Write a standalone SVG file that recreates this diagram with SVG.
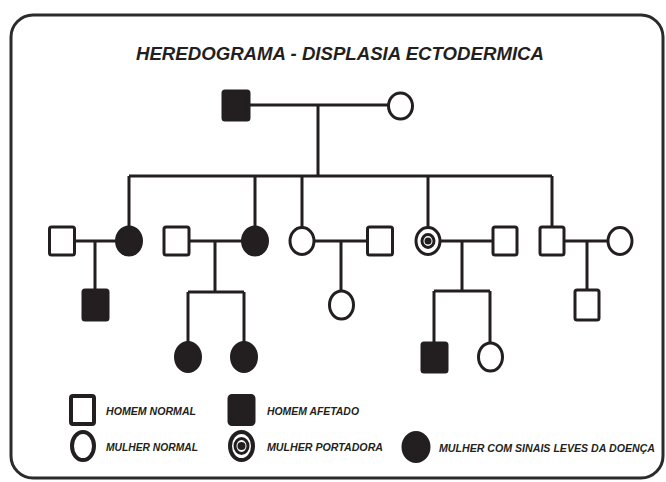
<svg xmlns="http://www.w3.org/2000/svg" width="666" height="482" viewBox="0 0 666 482">
<defs>
<style>
.frame{fill:#fff;stroke:#2b2b2b;stroke-width:3}
.ln{stroke:#231f20;stroke-width:3;fill:none}
.sq{fill:#fff;stroke:#231f20;stroke-width:3}
.sqf{fill:#231f20;stroke:#231f20;stroke-width:3}
.ci{fill:#fff;stroke:#231f20;stroke-width:3}
.cif{fill:#231f20;stroke:#231f20;stroke-width:3}
.dot{fill:#231f20}
.title{font-family:"Liberation Sans",Arial,sans-serif;font-weight:bold;font-style:italic;font-size:18.5px;fill:#231f20}
.lg{font-family:"Liberation Sans",Arial,sans-serif;font-weight:bold;font-style:italic;font-size:10.5px;fill:#231f20}
.lsq{fill:#fff;stroke:#231f20;stroke-width:4}
</style>
</defs>
<rect width="666" height="482" fill="#fff"/>
<rect class="frame" x="11" y="15" width="652" height="463" rx="22" ry="22"/>
<text class="title" x="136" y="60" textLength="408" lengthAdjust="spacingAndGlyphs">HEREDOGRAMA - DISPLASIA ECTODERMICA</text>

<g id="connectors">
<path class="ln" d="M249 105H388M318 105V176M129 176H552M129 176V227M255 176V227M302 176V227M428 176V227M552 176V227"/>
<path class="ln" d="M74 241H117M95 241V290"/>
<path class="ln" d="M188 241H243M215 241V292M188 292H244M188 292V342M244 292V342"/>
<path class="ln" d="M314 241H368M341 241V291"/>
<path class="ln" d="M440 241H493M462 241V291M434 291H490M434 291V343M490 291V343"/>
<path class="ln" d="M564 241H608M587 241V290"/>
</g>

<g id="gen1-father"><rect class="sqf" x="223" y="91" width="26" height="29" rx="2"/></g>
<g id="gen1-mother"><ellipse class="ci" cx="400.5" cy="106" rx="12" ry="13"/></g>

<g id="c1-husband"><rect class="sq" x="49.5" y="227" width="25" height="28" rx="2"/></g>
<g id="c1-wife"><ellipse class="cif" cx="129" cy="241" rx="12.5" ry="14"/></g>
<g id="c1-son"><rect class="sqf" x="83" y="290" width="25" height="30" rx="2"/></g>

<g id="c2-husband"><rect class="sq" x="164" y="227" width="25" height="28" rx="2"/></g>
<g id="c2-wife"><ellipse class="cif" cx="255" cy="241" rx="12.5" ry="14"/></g>
<g id="c2-daughter1"><ellipse class="cif" cx="188" cy="357" rx="12.5" ry="14.5"/></g>
<g id="c2-daughter2"><ellipse class="cif" cx="244" cy="357" rx="12.5" ry="14.5"/></g>

<g id="c3-wife"><ellipse class="ci" cx="302" cy="241" rx="12" ry="13.5"/></g>
<g id="c3-husband"><rect class="sq" x="367.5" y="227" width="25" height="28" rx="2"/></g>
<g id="c3-daughter"><ellipse class="ci" cx="341.5" cy="305" rx="12" ry="14"/></g>

<g id="c4-wife"><ellipse class="ci" cx="428" cy="241" rx="12" ry="13.5"/><ellipse class="ci" cx="428" cy="241" rx="6" ry="6.5" stroke-width="2"/><circle class="dot" cx="428" cy="241" r="3.5"/></g>
<g id="c4-husband"><rect class="sq" x="493" y="227" width="24" height="28" rx="2"/></g>
<g id="c4-son"><rect class="sqf" x="422" y="343" width="25" height="29" rx="2"/></g>
<g id="c4-daughter"><ellipse class="ci" cx="490.5" cy="357" rx="12" ry="14"/></g>

<g id="c5-husband"><rect class="sq" x="540" y="227" width="24" height="28" rx="2"/></g>
<g id="c5-wife"><ellipse class="ci" cx="620" cy="241" rx="12" ry="13.5"/></g>
<g id="c5-son"><rect class="sq" x="575" y="290" width="24" height="30" rx="2"/></g>

<g id="legend">
<rect class="lsq" x="71" y="396" width="23" height="28" rx="2"/>
<text class="lg" x="106" y="415" textLength="90" lengthAdjust="spacingAndGlyphs">HOMEM NORMAL</text>
<rect class="sqf" x="229" y="395.5" width="25" height="29" rx="3"/>
<text class="lg" x="267" y="415" textLength="92" lengthAdjust="spacingAndGlyphs">HOMEM AFETADO</text>
<ellipse class="lsq" cx="83" cy="446" rx="11" ry="14"/>
<text class="lg" x="106" y="451" textLength="92" lengthAdjust="spacingAndGlyphs">MULHER NORMAL</text>
<ellipse class="lsq" cx="241.5" cy="446" rx="11.5" ry="14"/>
<ellipse class="ci" cx="241.5" cy="446" rx="6.5" ry="7.5" stroke-width="2"/>
<circle class="dot" cx="241.5" cy="446" r="4"/>
<text class="lg" x="267" y="451" textLength="116" lengthAdjust="spacingAndGlyphs">MULHER PORTADORA</text>
<ellipse class="cif" cx="416" cy="447" rx="13" ry="14.5"/>
<text class="lg" x="439" y="452" textLength="216" lengthAdjust="spacingAndGlyphs">MULHER COM SINAIS LEVES DA DOENÇA</text>
</g>
</svg>
